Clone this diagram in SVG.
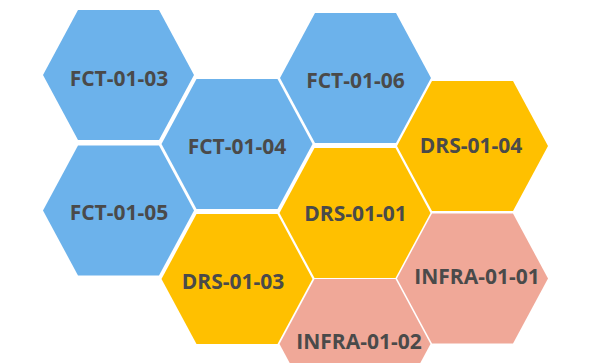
<svg xmlns="http://www.w3.org/2000/svg" xmlns:xlink="http://www.w3.org/1999/xlink" width="600" height="363" viewBox="0 0 600 363">
<style>
.blue{fill:#6CB2EB}
.yellow{fill:#FFC000}
.pink{fill:#F0A898}
.lbl{font-family:"Open Sans","Liberation Sans",sans-serif;font-weight:bold;font-size:21px;fill:#4A4A4A;text-anchor:middle}
</style>
<defs>
<polygon id="hex" points="-75.5,0 -40.5,-65 40.5,-65 75.5,0 40.5,65 -40.5,65"/>
</defs>
<rect width="600" height="363" fill="#FFFFFF"/>
<g id="connectors"></g>
<g id="FCT-01-03"><use xlink:href="#hex" class="blue" transform="translate(118.5,75)"/><text class="lbl" x="119" y="86">FCT-01-03</text></g>
<g id="FCT-01-05"><use xlink:href="#hex" class="blue" transform="translate(118.5,210.5)"/><text class="lbl" x="119" y="220">FCT-01-05</text></g>
<g id="FCT-01-04"><use xlink:href="#hex" class="blue" transform="translate(237,144)"/><text class="lbl" x="237" y="154">FCT-01-04</text></g>
<g id="DRS-01-03"><use xlink:href="#hex" class="yellow" transform="translate(237,279)"/><text class="lbl" x="233" y="289">DRS-01-03</text></g>
<g id="FCT-01-06"><use xlink:href="#hex" class="blue" transform="translate(355.5,78)"/><text class="lbl" x="355.5" y="88">FCT-01-06</text></g>
<g id="DRS-01-01"><use xlink:href="#hex" class="yellow" transform="translate(355,213)"/><text class="lbl" x="355.5" y="221">DRS-01-01</text></g>
<g id="INFRA-01-02"><use xlink:href="#hex" class="pink" transform="translate(355,344)"/><text class="lbl" x="359" y="349">INFRA-01-02</text></g>
<g id="DRS-01-04"><use xlink:href="#hex" class="yellow" transform="translate(472.5,146)"/><text class="lbl" x="471" y="153">DRS-01-04</text></g>
<g id="INFRA-01-01"><use xlink:href="#hex" class="pink" transform="translate(472.5,278.5)"/><text class="lbl" x="477" y="284">INFRA-01-01</text></g>
</svg>
